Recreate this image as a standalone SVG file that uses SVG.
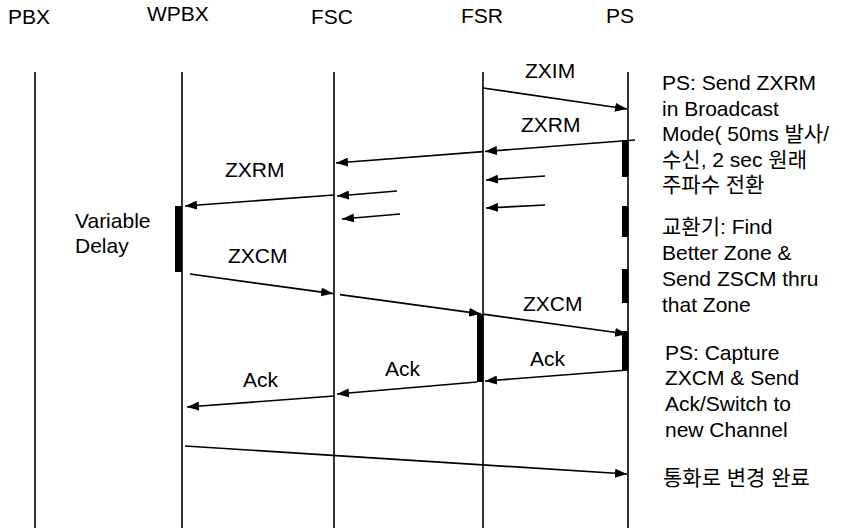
<svg xmlns="http://www.w3.org/2000/svg" width="850" height="528" viewBox="0 0 850 528">
<style>
text{font-family:"Liberation Sans","Noto Sans CJK KR",Arial,sans-serif;font-size:21px;fill:#000}
.life{stroke:#000;stroke-width:1.6;fill:none}
.bar{fill:#000}
.msg{stroke:#000;stroke-width:1.7;fill:none;marker-end:url(#ah)}
</style>
<defs>
<marker id="ah" markerUnits="userSpaceOnUse" markerWidth="13" markerHeight="9" refX="12" refY="4.5" orient="auto">
<path d="M0,0 L12,4.5 L0,9 z" fill="#000"/>
</marker>
</defs>
<rect width="850" height="528" fill="#fff"/>

<g id="PBX">
<text x="8" y="24">PBX</text>
<line class="life" x1="35" y1="72" x2="35" y2="528"/>
</g>
<g id="WPBX">
<text x="147" y="21">WPBX</text>
<line class="life" x1="182" y1="72" x2="182" y2="528" stroke-width="2"/>
<rect class="bar" x="175" y="206" width="7" height="66"/>
<text x="75" y="228">Variable</text>
<text x="75" y="253">Delay</text>
</g>
<g id="FSC">
<text x="311" y="24">FSC</text>
<line class="life" x1="334" y1="72" x2="334" y2="528"/>
</g>
<g id="FSR">
<text x="461" y="23">FSR</text>
<line class="life" x1="483" y1="72" x2="483" y2="528"/>
<rect class="bar" x="477" y="314" width="6.5" height="68"/>
</g>
<g id="PS">
<text x="606" y="23">PS</text>
<line class="life" x1="628" y1="72" x2="628" y2="528"/>
<rect class="bar" x="622" y="140" width="6.5" height="37"/>
<rect class="bar" x="622" y="206" width="6.5" height="31"/>
<rect class="bar" x="622" y="269" width="6.5" height="34"/>
<rect class="bar" x="622" y="331" width="6.5" height="39"/>
</g>

<g id="notes">
<text x="662" y="90">PS: Send ZXRM</text>
<text x="662" y="115.5">in Broadcast</text>
<text x="662" y="141">Mode( 50ms 발사/</text>
<text x="662" y="166.5">수신, 2 sec 원래</text>
<text x="662" y="192">주파수 전환</text>
<text x="662" y="234">교환기: Find</text>
<text x="662" y="260">Better Zone &amp;</text>
<text x="662" y="286">Send ZSCM thru</text>
<text x="662" y="312">that Zone</text>
<text x="665" y="360">PS: Capture</text>
<text x="665" y="385">ZXCM &amp; Send</text>
<text x="665" y="411">Ack/Switch to</text>
<text x="665" y="437">new Channel</text>
<text x="663" y="485">통화로 변경 완료</text>
</g>

<g id="connectors">
<line class="msg" x1="483" y1="88" x2="627" y2="109"/>
<text x="525" y="78">ZXIM</text>

<line class="msg" x1="635" y1="140" x2="485" y2="151.5"/>
<line class="msg" x1="483" y1="151.7" x2="336" y2="163"/>
<text x="521" y="132">ZXRM</text>
<text x="225" y="177">ZXRM</text>

<line class="msg" x1="334" y1="195" x2="185" y2="206"/>
<line class="msg" x1="397" y1="191" x2="337" y2="196"/>
<line class="msg" x1="400" y1="214" x2="342" y2="219"/>
<line class="msg" x1="545" y1="176" x2="486" y2="180"/>
<line class="msg" x1="545" y1="205" x2="486" y2="208"/>

<line class="msg" x1="190" y1="274" x2="333" y2="293.6"/>
<line class="msg" x1="340" y1="294.6" x2="481" y2="313.9"/>
<line class="msg" x1="483" y1="314.2" x2="627" y2="334"/>
<text x="228" y="263">ZXCM</text>
<text x="523" y="311">ZXCM</text>

<line class="msg" x1="628" y1="370" x2="485" y2="381"/>
<line class="msg" x1="477" y1="382" x2="337" y2="394"/>
<line class="msg" x1="334" y1="396" x2="187" y2="407"/>
<text x="530" y="366">Ack</text>
<text x="385" y="376">Ack</text>
<text x="243" y="387">Ack</text>

<line class="msg" x1="185" y1="446" x2="627" y2="474"/>
</g>
</svg>
